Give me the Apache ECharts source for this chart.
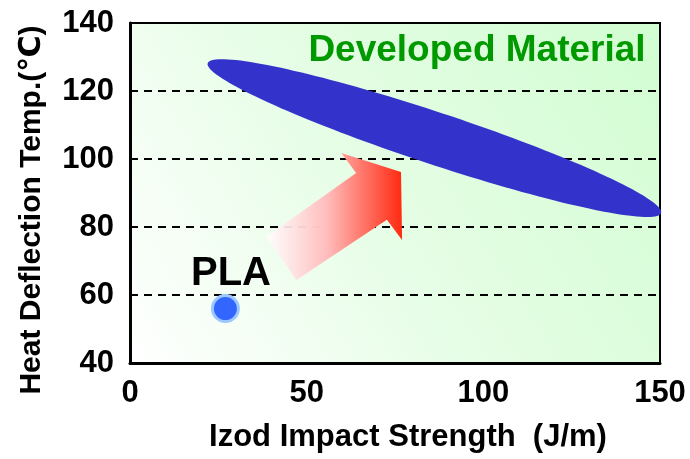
<!DOCTYPE html>
<html><head><meta charset="utf-8">
<script src="https://cdn.jsdelivr.net/npm/echarts@6/dist/echarts.min.js"></script>
<style>html,body{margin:0;padding:0;background:#fff}#c{width:690px;height:459px}</style>
</head><body><div id="c"></div>
<script>
// ---- data ----
const xTicks = [0, 50, 100, 150];
const yTicks = [40, 60, 80, 100, 120, 140];
const plaPoint = [[27, 56]];
const developedTipA = [22, 128.2];
const developedTipB = [150.3, 84.1];
const arrowX = [38.6, 64.0, 59.8, 76.7, 77.0, 72.7, 47.1];
const arrowY = [77.1, 95.9, 101.8, 96.2, 76.2, 82.1, 64.4];
const xTitle = 'Izod Impact Strength  (J/m)';
const yTitle = 'Heat Deflection Temp.(℃)';
const regionLabel = 'Developed Material';
const pointLabel = 'PLA';

const FONT = "'Liberation Sans', Arial, 'DejaVu Sans', sans-serif";
const chart = echarts.init(document.getElementById('c'), null, {renderer: 'canvas'});

const option = {
  animation: false,
  grid: {
    left: 130, right: 30, top: 23, bottom: 96,
    show: true, borderColor: '#000', borderWidth: 2,
    backgroundColor: new echarts.graphic.LinearGradient(0, 1, 1, 0, [
      {offset: 0, color: '#ffffff'},
      {offset: 0.5, color: '#e4fde4'},
      {offset: 1, color: '#d2fdd2'}
    ])
  },
  xAxis: {
    type: 'value', min: xTicks[0], max: xTicks[xTicks.length - 1], interval: 50,
    axisLine: {show: true, lineStyle: {color: '#000', width: 3}},
    axisTick: {show: false},
    axisLabel: {fontFamily: FONT, fontWeight: 'bold', fontSize: 31, color: '#000', margin: 15},
    splitLine: {show: false}
  },
  yAxis: {
    type: 'value', min: yTicks[0], max: yTicks[yTicks.length - 1], interval: 20,
    axisLine: {show: true, lineStyle: {color: '#000', width: 3}},
    axisTick: {show: true, inside: true, length: 5, lineStyle: {color: '#000', width: 2}},
    axisLabel: {fontFamily: FONT, fontWeight: 'bold', fontSize: 31, color: '#000', margin: 16},
    splitLine: {show: true, lineStyle: {color: '#000', width: 2, type: [8, 6]}}
  },
  graphic: [
    {type: 'text', z: 100, style: {
      text: regionLabel, x: 477, y: 51, align: 'center', verticalAlign: 'middle',
      fill: '#009a00', font: "bold 37px " + FONT}},
    {type: 'text', z: 100, style: {
      text: pointLabel, x: 231, y: 274, align: 'center', verticalAlign: 'middle',
      fill: '#000', font: "bold 40px " + FONT}},
    {type: 'text', z: 100, style: {
      text: xTitle, x: 408, y: 437, align: 'center', verticalAlign: 'middle',
      fill: '#000', font: "bold 31px " + FONT}},
    {type: 'text', z: 100, x: 32, y: 210, rotation: Math.PI / 2, style: {
      text: yTitle, x: 0, y: 0, align: 'center', verticalAlign: 'middle',
      fill: '#000', font: "bold 30px " + FONT}}
  ],
  series: [
    {
      type: 'custom', clip: false, z: 3,
      data: [[developedTipA[0], developedTipA[1], developedTipB[0], developedTipB[1]]],
      renderItem: function (params, api) {
        const p1 = api.coord([api.value(0), api.value(1)]);
        const p2 = api.coord([api.value(2), api.value(3)]);
        const cx = (p1[0] + p2[0]) / 2, cy = (p1[1] + p2[1]) / 2;
        const a = Math.hypot(p2[0] - p1[0], p2[1] - p1[1]) / 2;
        const b = 26;
        const th = Math.atan2(p2[1] - p1[1], p2[0] - p1[0]);
        const pts = [];
        for (let i = 0; i < 160; i++) {
          const t = i / 160 * Math.PI * 2;
          pts.push([
            cx + a * Math.cos(th) * Math.cos(t) - b * Math.sin(th) * Math.sin(t),
            cy + a * Math.sin(th) * Math.cos(t) + b * Math.cos(th) * Math.sin(t)
          ]);
        }
        return {type: 'polygon', shape: {points: pts}, style: {fill: '#3333cc'}};
      }
    },
    {
      type: 'custom', clip: false, z: 4,
      data: arrowX.map((x, i) => [x, arrowY[i]]),
      renderItem: function (params, api) {
        if (params.dataIndex !== 0) return null;
        const pts = arrowX.map((x, i) => api.coord([x, arrowY[i]]));
        return {type: 'polygon', shape: {points: pts}, style: {
          fill: new echarts.graphic.LinearGradient(0, 0, 1, 0, [
            {offset: 0, color: 'rgba(255,255,255,0.9)'},
            {offset: 0.45, color: '#ffbcbc'},
            {offset: 1, color: '#ff2a10'}
          ])
        }};
      }
    },
    {
      type: 'scatter', z: 5, data: plaPoint, symbol: 'circle', symbolSize: 26,
      itemStyle: {color: '#3366ff', borderColor: '#9cc8ff', borderWidth: 3, opacity: 1}
    }
  ]
};
chart.setOption(option);
</script></body></html>
